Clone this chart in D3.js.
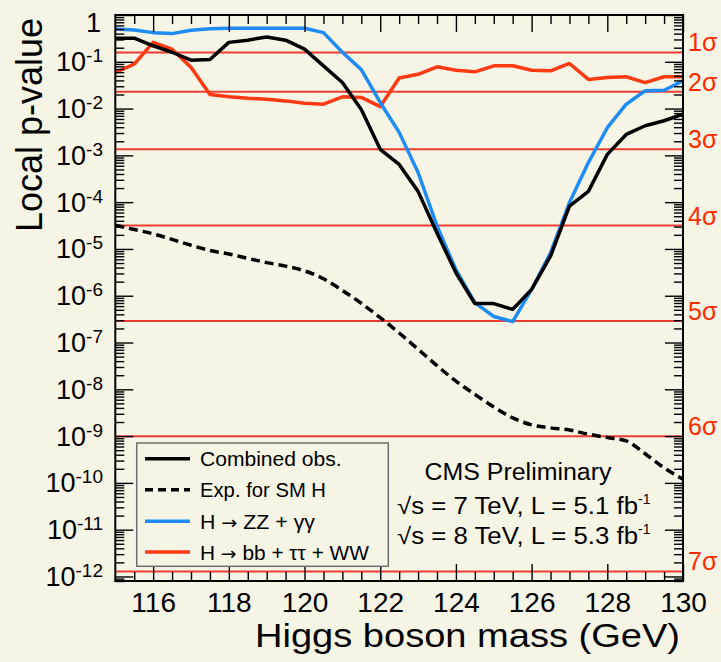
<!DOCTYPE html>
<html><head><meta charset="utf-8">
<script src="https://cdn.jsdelivr.net/npm/d3@7/dist/d3.min.js"></script>
<style>
body{margin:0;background:#f6f5e5;}
text{font-family:"Liberation Sans",Arial,Helvetica,sans-serif;}
</style>
</head><body>
<svg id="c" width="721" height="662"></svg>
<script>
// ---------- data ----------
const masses = [115,115.5,116,116.5,117,117.5,118,118.5,119,119.5,120,120.5,121,121.5,122,122.5,123,123.5,124,124.5,125,125.5,126,126.5,127,127.5,128,128.5,129,129.5,130];
const combinedObs = [0.32,0.32,0.22,0.16,0.108,0.112,0.26,0.29,0.34,0.29,0.186,0.082,0.036,0.0095,1.35e-3,6.4e-4,1.7e-4,2.2e-5,3.1e-6,6.8e-7,6.8e-7,5.1e-7,1.36e-6,7.0e-6,8.2e-5,1.7e-4,1.05e-3,2.8e-3,4.3e-3,5.5e-3,7.6e-3];
const expectedSM = [3.2e-5,2.6e-5,2.1e-5,1.6e-5,1.2e-5,9.3e-6,7.8e-6,6.3e-6,5.1e-6,4.3e-6,3.4e-6,2.3e-6,1.3e-6,6.9e-7,3.4e-7,1.6e-7,7.2e-8,3.2e-8,1.5e-8,7.8e-9,4.2e-9,2.45e-9,1.74e-9,1.5e-9,1.35e-9,1.1e-9,9.3e-10,7.9e-10,4.2e-10,2.1e-10,1.2e-10];
const zzGG = [0.50,0.48,0.42,0.40,0.47,0.51,0.52,0.52,0.52,0.52,0.52,0.42,0.16,0.068,0.0135,3.1e-3,4.3e-4,3.1e-5,3.6e-6,7.1e-7,3.6e-7,2.8e-7,1.36e-6,8.3e-6,9.8e-5,7e-4,3.9e-3,0.0124,0.024,0.0246,0.039];
const bbTauWW = [0.059,0.089,0.26,0.186,0.076,0.020,0.0178,0.0166,0.0159,0.0146,0.013,0.0124,0.0178,0.0173,0.011,0.045,0.054,0.078,0.066,0.061,0.082,0.082,0.066,0.064,0.092,0.042,0.046,0.048,0.036,0.048,0.048];
const sigmaP = [0.1587,0.02275,1.35e-3,3.17e-5,2.87e-7,9.87e-10,1.28e-12];
const sigmaLabels = ["1σ","2σ","3σ","4σ","5σ","6σ","7σ"];
const xMajorTicks = [116,118,120,122,124,126,128,130];
const yMajorExp = [0,-1,-2,-3,-4,-5,-6,-7,-8,-9,-10,-11,-12];
const legendLabels = [["Combined  obs."],["Exp. for SM H"],["H ","→"," ZZ + γγ"],["H ","→"," bb + ττ + WW"]];

// ---------- layout ----------
const L=115.3, R=683, T=15, B=581;
const svg=d3.select("#c");
const bg="#f6f5e5";
svg.append("rect").attr("width",721).attr("height",662).attr("fill",bg);

const x=d3.scaleLinear().domain([115,130]).range([L,R]);
const y=d3.scaleLog().domain([8e-13,1]).range([B,T]);

svg.append("clipPath").attr("id","clip").append("rect")
  .attr("x",L).attr("y",T).attr("width",R-L).attr("height",B-T);

// sigma lines
const sig=svg.append("g");
sigmaP.forEach((p,i)=>{
  sig.append("line").attr("x1",L).attr("x2",R).attr("y1",y(p)).attr("y2",y(p))
    .attr("stroke","#ee3d30").attr("stroke-width",2);
  sig.append("text").attr("x",688).attr("y",y(p)-1).attr("font-size",25)
    .attr("fill","#ff2a00").text(sigmaLabels[i]);
});

// curves
const line=d3.line().x((d,i)=>x(masses[i])).y(d=>y(d));
const smooth=d3.line().x((d,i)=>x(masses[i])).y(d=>y(d)).curve(d3.curveMonotoneX);
const curves=svg.append("g").attr("clip-path","url(#clip)");
curves.append("path").datum(expectedSM).attr("d",smooth).attr("fill","none")
  .attr("stroke","#000").attr("stroke-width",3.5).attr("stroke-dasharray","9,5");
curves.append("path").datum(bbTauWW).attr("d",line).attr("fill","none")
  .attr("stroke","#ff3a12").attr("stroke-width",3.5).attr("stroke-linejoin","round");
curves.append("path").datum(zzGG).attr("d",line).attr("fill","none")
  .attr("stroke","#1f8cf5").attr("stroke-width",3.5).attr("stroke-linejoin","round");
curves.append("path").datum(combinedObs).attr("d",line).attr("fill","none")
  .attr("stroke","#000").attr("stroke-width",3.5).attr("stroke-linejoin","round");

// ticks
const xMinor=[]; for(let m=115.5;m<130;m+=0.5){ if(!xMajorTicks.includes(m)) xMinor.push(m); }
const yMajor=yMajorExp.map(e=>Math.pow(10,e));
const yMinor=[]; for(let e=-13;e<0;e++){ for(let k=2;k<=9;k++){ const v=k*Math.pow(10,e); if(v>=8e-13&&v<=1) yMinor.push(v);} }

function styleAxis(g){ g.select(".domain").remove(); g.selectAll("line").attr("stroke","#000").attr("stroke-width",1.4); }
svg.append("g").attr("transform",`translate(0,${B})`)
  .call(d3.axisBottom(x).tickValues(xMinor).tickSizeInner(-9).tickSizeOuter(0).tickFormat("")).call(styleAxis);
svg.append("g").attr("transform",`translate(0,${T})`)
  .call(d3.axisTop(x).tickValues(xMinor).tickSizeInner(-9).tickSizeOuter(0).tickFormat("")).call(styleAxis);
svg.append("g").attr("transform",`translate(0,${T})`)
  .call(d3.axisTop(x).tickValues(xMajorTicks).tickSizeInner(-17).tickSizeOuter(0).tickFormat("")).call(styleAxis);
const xb=svg.append("g").attr("transform",`translate(0,${B})`)
  .call(d3.axisBottom(x).tickValues(xMajorTicks).tickSizeInner(-17).tickSizeOuter(0).tickFormat(d3.format("d"))).call(styleAxis);
xb.selectAll("text").attr("dy",null).attr("y",31).attr("font-size",28).attr("fill","#000")
  .attr("font-family","Liberation Sans, Arial, sans-serif");

svg.append("g").attr("transform",`translate(${L},0)`)
  .call(d3.axisLeft(y).tickValues(yMinor).tickSizeInner(-9).tickSizeOuter(0).tickFormat("")).call(styleAxis);
svg.append("g").attr("transform",`translate(${L},0)`)
  .call(d3.axisLeft(y).tickValues(yMajor).tickSizeInner(-18).tickSizeOuter(0).tickFormat("")).call(styleAxis);
svg.append("g").attr("transform",`translate(${R},0)`)
  .call(d3.axisRight(y).tickValues(yMinor).tickSizeInner(-9).tickSizeOuter(0).tickFormat("")).call(styleAxis);
svg.append("g").attr("transform",`translate(${R},0)`)
  .call(d3.axisRight(y).tickValues(yMajor).tickSizeInner(-18).tickSizeOuter(0).tickFormat("")).call(styleAxis);

// y tick labels
yMajorExp.forEach(e=>{
  const yy=y(Math.pow(10,e));
  if(e===0){
    svg.append("text").attr("x",101).attr("y",yy+17).attr("text-anchor","end").attr("font-size",27).text("1");
  } else {
    const t=svg.append("text").attr("x",103).attr("y",yy+9.5).attr("text-anchor","end").attr("font-size",27);
    t.append("tspan").text("10");
    t.append("tspan").attr("font-size",19).attr("dy",-9).text("-"+(-e));
  }
});

// frame
svg.append("rect").attr("x",L).attr("y",T).attr("width",R-L).attr("height",B-T)
  .attr("fill","none").attr("stroke","#000").attr("stroke-width",2);

// axis titles
svg.append("text").attr("x",680).attr("y",647).attr("text-anchor","end").attr("font-size",33)
  .attr("textLength",425).attr("lengthAdjust","spacingAndGlyphs").text("Higgs boson mass (GeV)");
svg.append("text").attr("transform","translate(42,18) rotate(-90)").attr("text-anchor","end").attr("font-size",36)
  .attr("textLength",214).attr("lengthAdjust","spacingAndGlyphs").text("Local p-value");

// legend
const lg=svg.append("g");
lg.append("rect").attr("x",136.7).attr("y",443).attr("width",251.6).attr("height",123.3)
  .attr("fill",bg).attr("stroke","#6e6e6e").attr("stroke-width",1.5);
const rowsY=[458.7,489.7,521.3,552];
const legStyles=[{c:"#000",d:null},{c:"#000",d:"8,5"},{c:"#1f8cf5",d:null},{c:"#ff3a12",d:null}];
const legLen=[141.7,126,115,169];
legendLabels.forEach((parts,i)=>{
  lg.append("line").attr("x1",145).attr("x2",190).attr("y1",rowsY[i]).attr("y2",rowsY[i])
    .attr("stroke",legStyles[i].c).attr("stroke-width",3.5).attr("stroke-dasharray",legStyles[i].d);
  const t=lg.append("text").attr("x",200).attr("y",rowsY[i]+7.5).attr("font-size",20)
    .attr("textLength",legLen[i]).attr("lengthAdjust","spacingAndGlyphs");
  parts.forEach(p=>{
    const s=t.append("tspan").text(p);
    if(p==="→") s.attr("font-family","DejaVu Sans").attr("font-size",18);
  });
});

// CMS text
svg.append("text").attr("x",518).attr("y",480).attr("text-anchor","middle").attr("font-size",23)
  .attr("textLength",187).attr("lengthAdjust","spacingAndGlyphs").text("CMS Preliminary");
[["√s = 7 TeV, L = 5.1 fb",513.5],["√s = 8 TeV, L = 5.3 fb",543.5]].forEach(([s,yy])=>{
  const t=svg.append("text").attr("x",397).attr("y",yy).attr("font-size",23);
  t.append("tspan").attr("textLength",241).attr("lengthAdjust","spacingAndGlyphs").text(s);
  t.append("tspan").attr("font-size",14).attr("dy",-10).text("-1");
});
</script>
</body></html>
